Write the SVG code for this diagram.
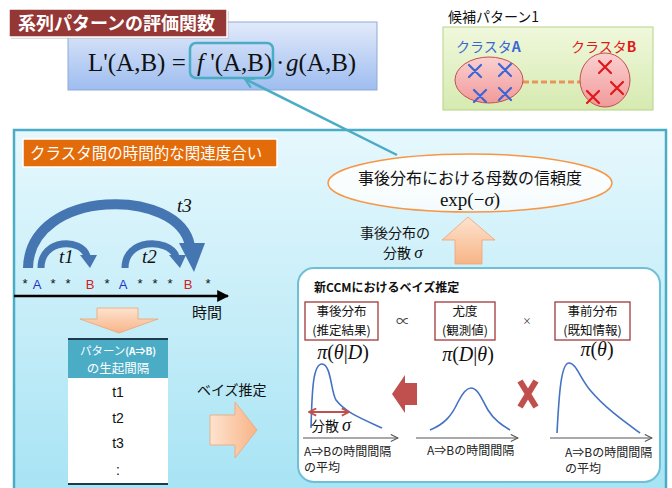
<svg xmlns="http://www.w3.org/2000/svg" width="672" height="488" viewBox="0 0 672 488">
<defs>
<linearGradient id="gFormula" x1="0" y1="0" x2="0" y2="1"><stop offset="0" stop-color="#e2eafa"/><stop offset="1" stop-color="#9ebdf0"/></linearGradient>
<linearGradient id="gGreen" x1="0" y1="0" x2="0" y2="1"><stop offset="0" stop-color="#f0f8dc"/><stop offset="1" stop-color="#d6eab0"/></linearGradient>
<linearGradient id="gPink" x1="0" y1="0" x2="0" y2="1"><stop offset="0" stop-color="#fbd0d0"/><stop offset="1" stop-color="#f19a9a"/></linearGradient>
<linearGradient id="gFrame" x1="0" y1="0" x2="0" y2="1"><stop offset="0" stop-color="#e6f8fd"/><stop offset="1" stop-color="#a6e3f4"/></linearGradient>
<linearGradient id="gPeachV" x1="0" y1="0" x2="0" y2="1"><stop offset="0" stop-color="#fde3cf"/><stop offset="1" stop-color="#f8b487"/></linearGradient>
<linearGradient id="gPeachH" x1="0" y1="0" x2="1" y2="0"><stop offset="0" stop-color="#fde3cf"/><stop offset="1" stop-color="#f8b487"/></linearGradient>
<linearGradient id="gEll" x1="0" y1="0" x2="0" y2="1"><stop offset="0" stop-color="#ffffff"/><stop offset="1" stop-color="#f4fbfd"/></linearGradient>
<marker id="mTeal" viewBox="0 0 12 12" refX="10" refY="6" markerWidth="12" markerHeight="12" markerUnits="userSpaceOnUse" orient="auto"><path d="M1,1 L10,6 L1,11" fill="none" stroke="#4bacc6" stroke-width="2.2"/></marker>
<marker id="mGray" viewBox="0 0 10 10" refX="9" refY="5" markerWidth="9" markerHeight="9" markerUnits="userSpaceOnUse" orient="auto"><path d="M1,1 L9,5 L1,9" fill="none" stroke="#555" stroke-width="1.2"/></marker>
<marker id="mBlack" viewBox="0 0 10 10" refX="9" refY="5" markerWidth="12" markerHeight="12" markerUnits="userSpaceOnUse" orient="auto"><path d="M0,0 L10,5 L0,10 Z" fill="#000"/></marker>
<marker id="mRedE" viewBox="0 0 10 10" refX="9" refY="5" markerWidth="9" markerHeight="9" markerUnits="userSpaceOnUse" orient="auto"><path d="M1,1 L9,5 L1,9" fill="none" stroke="#c0504d" stroke-width="2"/></marker>
<marker id="mRedS" viewBox="0 0 10 10" refX="1" refY="5" markerWidth="9" markerHeight="9" markerUnits="userSpaceOnUse" orient="auto"><path d="M9,1 L1,5 L9,9" fill="none" stroke="#c0504d" stroke-width="2"/></marker>
</defs>
<style>
.jp{font-family:"Noto Sans CJK JP","Noto Sans",sans-serif;}
.sans{font-family:"Liberation Sans","Noto Sans CJK JP",sans-serif;}
.math{font-family:"Liberation Serif","Noto Sans CJK JP",serif;}
.it{font-style:italic;}
.arc{fill:none;stroke:#4676b2;}
.arch{fill:#4676b2;}
.xb{stroke:#3a66d8;stroke-width:2.2;stroke-linecap:round;}
.xr{stroke:#e0181c;stroke-width:2.2;stroke-linecap:round;}
.curve{fill:none;stroke:#4472c4;stroke-width:1.6;}
.axis{fill:none;stroke:#555;stroke-width:1.1;}
.lbox{fill:#fff;stroke:#a0393a;stroke-width:1.3;}
.peach{stroke:#eea574;stroke-width:0.8;}
</style>
<rect width="672" height="488" fill="#fff"/>

<g id="formula">
<rect x="68" y="22" width="309" height="68" fill="url(#gFormula)" stroke="#8faad3" stroke-width="1"/>
<text class="math" x="88" y="71" font-size="25" fill="#111">L'(A,B) =</text>
<rect x="190" y="43" width="83" height="35" rx="6" fill="none" stroke="#4bacc6" stroke-width="2.5"/>
<text class="math" x="197" y="71" font-size="25" fill="#111"><tspan class="it">f</tspan> '(A,B)</text>
<text class="math" x="276" y="71" font-size="25" fill="#111">·</text>
<text class="math" x="286" y="71" font-size="25" fill="#111"><tspan class="it">g</tspan>(A,B)</text>
</g>

<g id="title">
<rect x="11" y="11" width="218" height="28" fill="#bbb" opacity="0.5"/>
<rect x="9" y="9" width="218" height="28" fill="#953735" stroke="#fff" stroke-width="1.5"/>
<text class="jp" x="18" y="30" font-size="18" font-weight="bold" fill="#fff">系列パターンの評価関数</text>
</g>

<g id="candidate">
<text class="jp" x="448" y="22" font-size="14" fill="#111">候補パターン1</text>
<rect x="443" y="27" width="210" height="83" fill="url(#gGreen)" stroke="#b7d18a" stroke-width="1"/>
<text class="jp" x="456" y="52" font-size="14" fill="#3a66d8">クラスタ<tspan font-weight="bold">A</tspan></text>
<text class="jp" x="571" y="52" font-size="14" fill="#e0181c">クラスタ<tspan font-weight="bold">B</tspan></text>
<line x1="523" y1="82" x2="581" y2="82" stroke="#e8955a" stroke-width="3" stroke-dasharray="6,3"/>
<ellipse cx="489" cy="80" rx="34" ry="23" fill="url(#gPink)" stroke="#c0504d" stroke-width="1"/>
<ellipse cx="605" cy="80" rx="25" ry="27" fill="url(#gPink)" stroke="#c0504d" stroke-width="1"/>
<path class="xb" d="M469,65 L481,77 M481,65 L469,77 M499,64 L511,76 M511,64 L499,76 M474,90 L486,102 M486,90 L474,102 M499,88 L511,100 M511,88 L499,100"/>
<path class="xr" d="M599,61 L611,73 M611,61 L599,73 M611,82 L623,94 M623,82 L611,94 M587,91 L599,103 M599,91 L587,103"/>
</g>

<g id="frame">
<rect x="14" y="130" width="652" height="370" fill="url(#gFrame)" stroke="#4bacc6" stroke-width="2.5"/>
</g>

<g id="section-label">
<rect x="23" y="139" width="254" height="28" fill="#e36c0a" stroke="#fff" stroke-width="1.5"/>
<text class="jp" x="30" y="159" font-size="15.5" fill="#fff">クラスタ間の時間的な関連度合い</text>
</g>

<g id="timeline">
<path class="arc" stroke-width="10" d="M28,268 C30,187 180,187 190,246"/>
<polygon class="arch" points="179,243 205,243 194,272"/>
<path class="arc" stroke-width="7" d="M41,268 C41,238 82,238 87,256"/>
<polygon class="arch" points="80,255 97,255 90,268"/>
<path class="arc" stroke-width="7" d="M125,268 C125,238 168,238 176,256"/>
<polygon class="arch" points="169,255 186,255 180,268"/>
<text class="math it" x="59" y="263" font-size="19" fill="#111">t1</text>
<text class="math it" x="142" y="263" font-size="19" fill="#111">t2</text>
<text class="math it" x="177" y="212" font-size="19" fill="#111">t3</text>
<g class="sans" font-size="13" text-anchor="middle" fill="#111">
<text x="25" y="288">*</text><text x="37" y="289" fill="#2233cc">A</text>
<text x="53" y="288">*</text><text x="68" y="288">*</text>
<text x="90" y="289" fill="#d02020">B</text>
<text x="107" y="288">*</text><text x="123" y="289" fill="#2233cc">A</text>
<text x="140" y="288">*</text><text x="155" y="288">*</text><text x="170" y="288">*</text>
<text x="188" y="289" fill="#d02020">B</text><text x="208" y="288">*</text>
</g>
<line x1="14" y1="296" x2="228" y2="296" stroke="#000" stroke-width="2.5" marker-end="url(#mBlack)"/>
<text class="jp" x="192" y="318" font-size="15" fill="#111">時間</text>
</g>

<g id="down-arrow">
<polygon class="peach" fill="url(#gPeachV)" points="97,308 138,308 138,319 158,319 119,333 80,319 97,319"/>
</g>

<g id="table">
<rect x="68" y="339" width="100" height="39" fill="#4bacc6"/>
<rect x="68" y="378" width="100" height="106" fill="#fff"/>
<line x1="68" y1="339" x2="168" y2="339" stroke="#1f3a4a" stroke-width="2"/>
<line x1="68" y1="484" x2="168" y2="484" stroke="#1f3a4a" stroke-width="2"/>
<text class="jp" x="118" y="355" font-size="11.5" fill="#fff" text-anchor="middle">パターン<tspan font-size="10" font-weight="bold">(A⇒B)</tspan></text>
<text class="jp" x="118" y="373" font-size="12.5" fill="#fff" text-anchor="middle">の生起間隔</text>
<g class="sans" font-size="14" fill="#111" text-anchor="middle">
<text x="118" y="397">t1</text>
<text x="118" y="423">t2</text>
<text x="118" y="448">t3</text>
<text x="118" y="475">:</text>
</g>
</g>

<g id="bayes-label">
<text class="jp" x="197" y="395" font-size="14" fill="#111">ベイズ推定</text>
<polygon class="peach" fill="url(#gPeachH)" points="210,415 235,415 235,402 257,430 235,458 235,445 210,445"/>
</g>

<g id="confidence">
<ellipse cx="470" cy="183" rx="142" ry="29" fill="url(#gEll)" stroke="#f79646" stroke-width="1.5"/>
<text class="jp" x="470" y="184" font-size="16" fill="#111" text-anchor="middle">事後分布における母数の信頼度</text>
<text class="math" x="470" y="206" font-size="19" fill="#111" text-anchor="middle">exp(−<tspan class="it">σ</tspan>)</text>
</g>

<g id="up-arrow">
<polygon class="peach" fill="url(#gPeachV)" points="468,217 495,240 482,240 482,264 455,264 455,240 442,240"/>
<text class="jp" x="360" y="238" font-size="14" fill="#111">事後分布の</text>
<text class="jp" x="383" y="258" font-size="14" fill="#111">分散 <tspan class="math it" font-size="17">σ</tspan></text>
</g>

<g id="bayes-box">
<rect x="298" y="268" width="362" height="214" rx="16" fill="#fff" stroke="#6fbfd6" stroke-width="2"/>
<text class="jp" x="314" y="292" font-size="12" font-weight="bold" fill="#111">新CCMにおけるベイズ推定</text>
<rect class="lbox" x="305" y="302" width="73" height="38"/>
<text class="jp" x="341.5" y="316" font-size="12.5" fill="#111" text-anchor="middle">事後分布</text>
<text class="jp" x="341.5" y="335" font-size="12.5" fill="#111" text-anchor="middle">(推定結果)</text>
<rect class="lbox" x="435" y="302" width="60" height="38"/>
<text class="jp" x="465" y="316" font-size="12.5" fill="#111" text-anchor="middle">尤度</text>
<text class="jp" x="465" y="335" font-size="12.5" fill="#111" text-anchor="middle">(観測値)</text>
<rect class="lbox" x="555" y="302" width="75" height="38"/>
<text class="jp" x="592.5" y="316" font-size="12.5" fill="#111" text-anchor="middle">事前分布</text>
<text class="jp" x="592.5" y="335" font-size="12.5" fill="#111" text-anchor="middle">(既知情報)</text>
<text class="math" x="403" y="326" font-size="14" fill="#444" text-anchor="middle">∝</text>
<text class="math" x="527" y="326" font-size="14" fill="#444" text-anchor="middle">×</text>
<text class="math" x="343" y="359" font-size="20" fill="#111" text-anchor="middle"><tspan class="it">π</tspan>(<tspan class="it">θ</tspan>|<tspan class="it">D</tspan>)</text>
<text class="math" x="468" y="361" font-size="20" fill="#111" text-anchor="middle"><tspan class="it">π</tspan>(<tspan class="it">D</tspan>|<tspan class="it">θ</tspan>)</text>
<text class="math" x="597" y="356" font-size="20" fill="#111" text-anchor="middle"><tspan class="it">π</tspan>(<tspan class="it">θ</tspan>)</text>
<path class="curve" d="M311,428 C312,390 313,364 322,364 C331,364 331,392 336,400 C345,412 360,418 382,428"/>
<path class="curve" d="M430,430 C445,424 452,415 458,402 C464,390 468,388 471,388 C478,388 482,400 488,410 C494,420 502,425 510,430"/>
<path class="curve" d="M557,433 C559,395 561,363 569,363 C576,363 580,378 590,390 C605,408 625,422 640,433"/>
<line x1="309" y1="412" x2="349" y2="412" stroke="#c0504d" stroke-width="2" marker-start="url(#mRedS)" marker-end="url(#mRedE)"/>
<text class="jp" x="311" y="431" font-size="14" fill="#111">分散<tspan class="math it" font-size="18" dx="3">σ</tspan></text>
<path class="axis" d="M303,438 L398,438" marker-end="url(#mGray)"/>
<path class="axis" d="M416,438 L518,438" marker-end="url(#mGray)"/>
<path class="axis" d="M550,438 L652,438" marker-end="url(#mGray)"/>
<text class="jp" x="304" y="456" font-size="12" fill="#222">A⇒Bの時間間隔</text>
<text class="jp" x="304" y="472" font-size="12" fill="#222">の平均</text>
<text class="jp" x="427" y="455" font-size="12" fill="#222">A⇒Bの時間間隔</text>
<text class="jp" x="565" y="457" font-size="12" fill="#222">A⇒Bの時間間隔</text>
<text class="jp" x="565" y="473" font-size="12" fill="#222">の平均</text>
<polygon fill="#c0504d" points="392,394 405,375 405,383 417,383 417,405 405,405 405,413"/>
<path d="M520,381 L536,407 M536,381 L520,407" stroke="#c0504d" stroke-width="6"/>
</g>

<g id="connectors">
<line x1="397" y1="155" x2="245" y2="79" stroke="#4bacc6" stroke-width="2.5" marker-end="url(#mTeal)"/>
</g>
</svg>
